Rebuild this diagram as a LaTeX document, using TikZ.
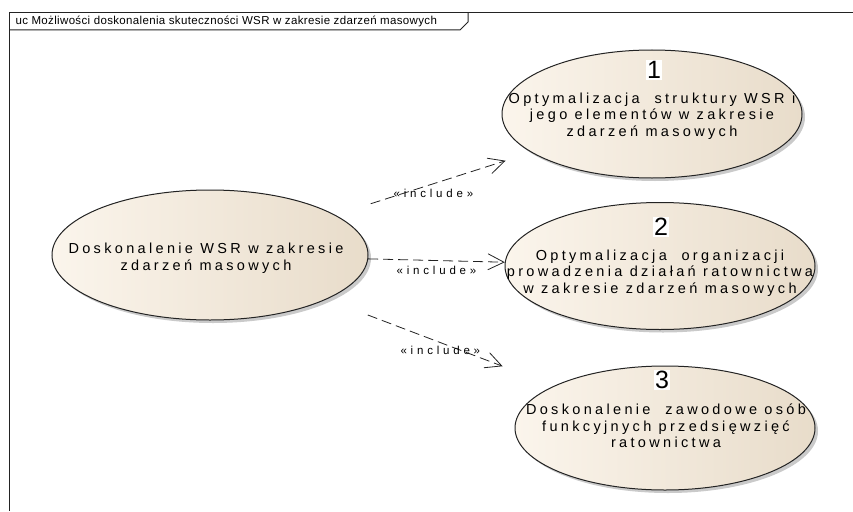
\documentclass[tikz,border=0pt]{standalone}
\usepackage{fontspec}
\setmainfont{Liberation Sans}
\newfontfamily\ucfont[LetterSpace=23]{Liberation Sans}
\newfontfamily\headfont[LetterSpace=3]{Liberation Sans}
\newfontfamily\incfont[LetterSpace=33]{Liberation Sans}
\usetikzlibrary{shapes.geometric,shadows,arrows.meta}

\definecolor{ucleft}{RGB}{251,245,236}
\definecolor{ucright}{RGB}{232,220,202}
\definecolor{ucline}{RGB}{35,35,35}

\tikzset{
  usecase/.style={ellipse, draw=ucline, line width=1pt, left color=ucleft, right color=ucright,
    drop shadow={shadow xshift=3pt, shadow yshift=-3pt, fill=black!35, opacity=0.6}, inner sep=0pt},
  uctext/.style={align=center, font=\ucfont\fontsize{14.5}{16.5}\selectfont},
  number/.style={fill=white, inner sep=1.5pt, font=\fontsize{25}{25}\selectfont},
  include/.style={draw=ucline, line width=0.8pt, dash pattern=on 10pt off 5pt,
    -{Straight Barb[length=16pt,width=16pt,line width=0.8pt]}},
  stereo/.style={font=\incfont\fontsize{11.5}{13}\selectfont}
}

\begin{document}
\begin{tikzpicture}[x=1pt,y=-1pt]
\useasboundingbox (0,0) rectangle (853,511);

    % Frame with the diagram tab
    \draw[ucline, line width=1pt] (853,13) -- (9,13) -- (9,511);
    \draw[ucline, line width=1pt] (9,30) -- (460,30) -- (468,22) -- (468,13);
    \node[anchor=west, font=\headfont\fontsize{11.5}{13}\selectfont] (title) at (12,21.5)
      {uc Możliwości doskonalenia skuteczności WSR w zakresie zdarzeń masowych};

    % Main use case
    \node[usecase, minimum width=316pt, minimum height=130pt] (main) at (210,255) {};
    \node[uctext] (maintext) at (206,258) {Doskonalenie WSR w zakresie\\zdarzeń masowych};

    % Use case 1
    \node[usecase, minimum width=300pt, minimum height=128pt] (uc1) at (652,114) {};
    \node[uctext] (uc1text) at (652,116) {Optymalizacja~ struktury WSR i\\jego elementów w zakresie\\zdarzeń masowych};
    \node[number] (num1) at (654,70) {1};

    % Use case 2
    \node[usecase, minimum width=310pt, minimum height=127pt] (uc2) at (660,266) {};
    \node[uctext] (uc2text) at (660,273) {Optymalizacja~ organizacji\\prowadzenia działań ratownictwa\\w zakresie zdarzeń masowych};
    \node[number] (num2) at (661,227) {2};

    % Use case 3
    \node[usecase, minimum width=300pt, minimum height=124pt] (uc3) at (665,428) {};
    \node[uctext] (uc3text) at (666,426) {Doskonalenie~ zawodowe osób\\funkcyjnych przedsięwzięć\\ratownictwa};
    \node[number] (num3) at (662,380) {3};

    % Include relations
    \draw[include, shorten <=37pt, shorten >=27pt] (main) -- node[stereo, below=2pt, pos=0.5] {«include»} (uc1);
    \draw[include] (main) -- node[stereo, below=2pt, pos=0.5] {«include»} (uc2);
    \draw[include, shorten <=44pt, shorten >=55pt] (main) -- node[stereo, below, pos=0.5] {«include»} (uc3);

\end{tikzpicture}
\end{document}
